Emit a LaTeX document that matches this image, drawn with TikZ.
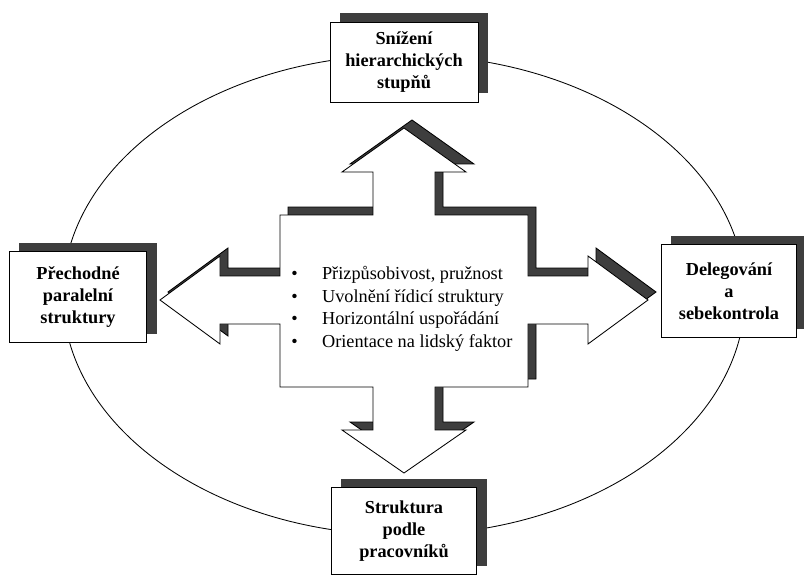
\documentclass[tikz,border=0pt]{standalone}
\usepackage{fontspec}
\setmainfont{Liberation Serif}
\usetikzlibrary{shadows}
\definecolor{mydark}{RGB}{62,62,62}
\tikzset{
  box/.style={rectangle, draw=black, fill=white, align=center, line width=0.6pt,
    font=\bfseries\fontsize{13}{15.5}\selectfont,
    drop shadow={shadow xshift=0.25cm, shadow yshift=0.22cm, fill=mydark, opacity=1}},
  outline/.style={line width=0.6pt, color=black}
}

\begin{document}
\begin{tikzpicture}[x=0.025cm, y=-0.025cm]
  \useasboundingbox (0,0) rectangle (804,578);

  % Surrounding ellipse
  \draw[outline] (404,295) ellipse [x radius=8.525cm, y radius=6cm];

  % Cross of four arrows, shadow first
  \foreach \s/\col in {8/mydark, 0/white}
    \filldraw[outline, fill=\col, shift={(\s,-\s)}]
      (404,128) -- (466,172) -- (435,172) -- (435,215) -- (528,215) -- (528,276)
      -- (588,276) -- (588,256) -- (648,300) -- (588,344) -- (588,324) -- (528,324)
      -- (528,387) -- (435,387) -- (435,430) -- (466,430) -- (404,473) -- (342,430)
      -- (373,430) -- (373,387) -- (280,387) -- (280,324) -- (220,324) -- (220,344)
      -- (160,300) -- (220,256) -- (220,276) -- (280,276) -- (280,215) -- (373,215)
      -- (373,172) -- (342,172) -- cycle;

  % Bullet list in the middle
  \node[anchor=west, align=left, inner sep=0pt, font=\fontsize{13}{16.1}\selectfont] (traits) at (291,309)
    {\makebox[0.77cm][l]{\textbullet}Přizpůsobivost, pružnost\\
     \makebox[0.77cm][l]{\textbullet}Uvolnění řídicí struktury\\
     \makebox[0.77cm][l]{\textbullet}Horizontální uspořádání\\
     \makebox[0.77cm][l]{\textbullet}Orientace na lidský faktor};

  % Outer boxes
  \node[box, minimum width=3.7cm, minimum height=2.0cm] (levels) at (404,62)
    {Snížení\\hierarchických\\stupňů};
  \node[box, minimum width=3.43cm, minimum height=2.27cm] (parallel) at (78,297)
    {Přechodné\\paralelní\\struktury};
  \node[box, minimum width=3.38cm, minimum height=2.33cm] (delegation) at (729,291)
    {Delegování\\a\\sebekontrola};
  \node[box, minimum width=3.63cm, minimum height=2.18cm] (staff) at (404,531)
    {Struktura\\podle\\pracovníků};
\end{tikzpicture}
\end{document}
